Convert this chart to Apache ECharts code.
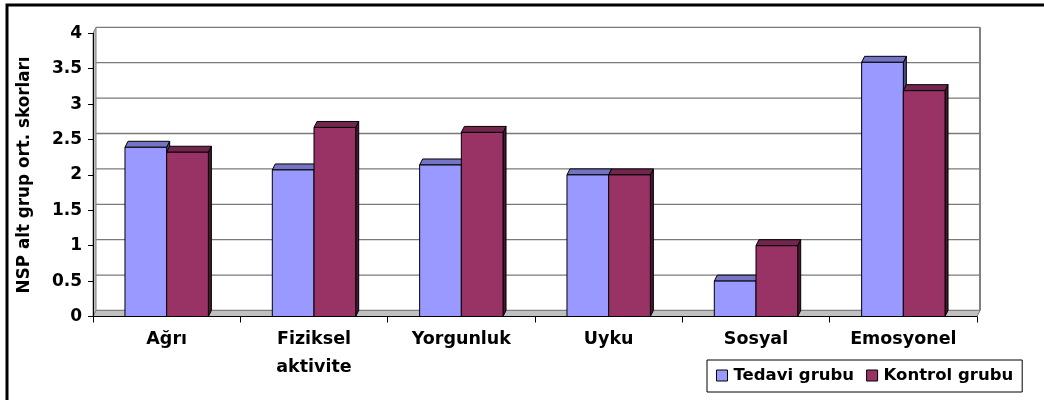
<!DOCTYPE html>
<html>
<head>
<meta charset="utf-8">
<script src="https://cdn.jsdelivr.net/npm/echarts@6/dist/echarts.min.js"></script>
<style>
  html, body { margin: 0; padding: 0; background: #fff; }
  #chart { width: 1044px; height: 400px; }
</style>
</head>
<body>
<div id="chart"></div>
<script>
// NSP subscale mean scores per group
const categories = ['Ağrı', 'Fiziksel\naktivite', 'Yorgunluk', 'Uyku', 'Sosyal', 'Emosyonel'];
const tedavi = [2.39, 2.07, 2.14, 2.00, 0.50, 3.59];
const kontrol = [2.32, 2.67, 2.60, 2.00, 1.00, 3.19];
const seriesNames = ['Tedavi grubu', 'Kontrol grubu'];
const yTicks = [0, 0.5, 1, 1.5, 2, 2.5, 3, 3.5, 4];
const yTitle = 'NSP alt grup ort. skorları';

// pseudo-3D depth of the bars and the back wall, in pixels
const DX = 3, DY = -6;
const BAR_RATIO = 0.283;
const FONT = '"DejaVu Sans", sans-serif';

const palette = [
  { front: '#9999FF', top: '#7474C4', side: '#4A4A8C' },
  { front: '#993366', top: '#73264D', side: '#4A1530' }
];

function barRenderer(slot, colors) {
  return function (params, api) {
    const cat = api.value(0), val = api.value(1);
    const topPt = api.coord([cat, val]);
    const basePt = api.coord([cat, 0]);
    const bw = api.size([1, 0])[0] * BAR_RATIO;
    const x0 = topPt[0] - bw + slot * bw;
    const y0 = topPt[1], y1 = basePt[1];
    const edge = { stroke: '#000', lineWidth: 1 };
    return {
      type: 'group',
      children: [
        { type: 'polygon',
          shape: { points: [[x0 + bw, y0], [x0 + bw + DX, y0 + DY], [x0 + bw + DX, y1 + DY], [x0 + bw, y1]] },
          style: Object.assign({ fill: colors.side }, edge) },
        { type: 'polygon',
          shape: { points: [[x0, y0], [x0 + DX, y0 + DY], [x0 + bw + DX, y0 + DY], [x0 + bw, y0]] },
          style: Object.assign({ fill: colors.top }, edge) },
        { type: 'rect',
          shape: { x: x0, y: y0, width: bw, height: y1 - y0 },
          style: Object.assign({ fill: colors.front }, edge) }
      ]
    };
  };
}

// back wall gridlines, side walls and floor
function wallRenderer(params, api) {
  const cs = params.coordSys;
  const left = cs.x, right = cs.x + cs.width;
  const bottom = cs.y + cs.height, top = cs.y;
  const children = [];
  yTicks.forEach(function (v) {
    const y = api.coord([0, v])[1] + DY;
    children.push({ type: 'line',
      shape: { x1: left + DX, y1: y, x2: right + DX, y2: y },
      style: { stroke: '#7a7a7a', lineWidth: 1.3 } });
  });
  children.push({ type: 'polygon',
    shape: { points: [[left, bottom], [right, bottom], [right + DX, bottom + DY], [left + DX, bottom + DY]] },
    style: { fill: '#c0c0c0', stroke: '#808080', lineWidth: 1 } });
  children.push({ type: 'polygon',
    shape: { points: [[left, bottom], [left + DX, bottom + DY], [left + DX, top + DY], [left, top]] },
    style: { fill: '#c0c0c0', stroke: '#808080', lineWidth: 1 } });
  children.push({ type: 'line',
    shape: { x1: right + DX, y1: top + DY, x2: right + DX, y2: bottom + DY },
    style: { stroke: '#808080', lineWidth: 2 } });
  return { type: 'group', children: children };
}

const chart = echarts.init(document.getElementById('chart'), null, { renderer: 'canvas' });

chart.setOption({
  animation: false,
  backgroundColor: '#fff',
  graphic: [{
    type: 'rect', z: 100, silent: true,
    shape: { x: 7, y: 5, width: 1200, height: 600 },
    style: { fill: 'none', stroke: '#000', lineWidth: 3 }
  }],
  grid: { left: 93, right: 67, top: 33.3, bottom: 83.5, containLabel: false },
  legend: {
    data: seriesNames,
    left: 707, top: 360,
    orient: 'horizontal',
    icon: 'rect',
    itemWidth: 11, itemHeight: 11,
    itemGap: 12,
    padding: [7, 9, 8, 9],
    borderColor: '#000', borderWidth: 1,
    backgroundColor: '#fff',
    itemStyle: { borderColor: '#000', borderWidth: 1 },
    textStyle: { fontFamily: FONT, fontWeight: 'bold', fontSize: 16.5, color: '#000', padding: [0, 0, 0, 1] }
  },
  xAxis: {
    type: 'category',
    data: categories,
    boundaryGap: true,
    z: 5,
    axisLine: { show: true, lineStyle: { color: '#000', width: 1 } },
    axisTick: { show: true, interval: 0, length: 6, lineStyle: { color: '#000' } },
    axisLabel: { interval: 0, margin: 9, fontFamily: FONT, fontWeight: 'bold', fontSize: 17.5, lineHeight: 28, color: '#000' },
    splitLine: { show: false }
  },
  yAxis: {
    type: 'value',
    min: yTicks[0], max: yTicks[yTicks.length - 1], interval: yTicks[1] - yTicks[0],
    z: 5,
    name: yTitle,
    nameLocation: 'middle',
    nameRotate: 90,
    nameGap: 60,
    nameTextStyle: { fontFamily: FONT, fontWeight: 'bold', fontSize: 16.8, color: '#000' },
    axisLine: { show: true, lineStyle: { color: '#000', width: 1 } },
    axisTick: { show: true, length: 5, lineStyle: { color: '#000' } },
    axisLabel: { margin: 11, fontFamily: FONT, fontWeight: 'bold', fontSize: 17, color: '#000' },
    splitLine: { show: false }
  },
  series: [
    {
      type: 'custom', name: 'walls', z: 1, silent: true,
      renderItem: wallRenderer,
      data: [[0, 0]]
    },
    {
      type: 'custom', name: seriesNames[0], z: 2,
      itemStyle: { color: palette[0].front },
      renderItem: barRenderer(0, palette[0]),
      data: tedavi.map(function (v, i) { return [i, v]; })
    },
    {
      type: 'custom', name: seriesNames[1], z: 3,
      itemStyle: { color: palette[1].front },
      renderItem: barRenderer(1, palette[1]),
      data: kontrol.map(function (v, i) { return [i, v]; })
    }
  ]
});
</script>
</body>
</html>
